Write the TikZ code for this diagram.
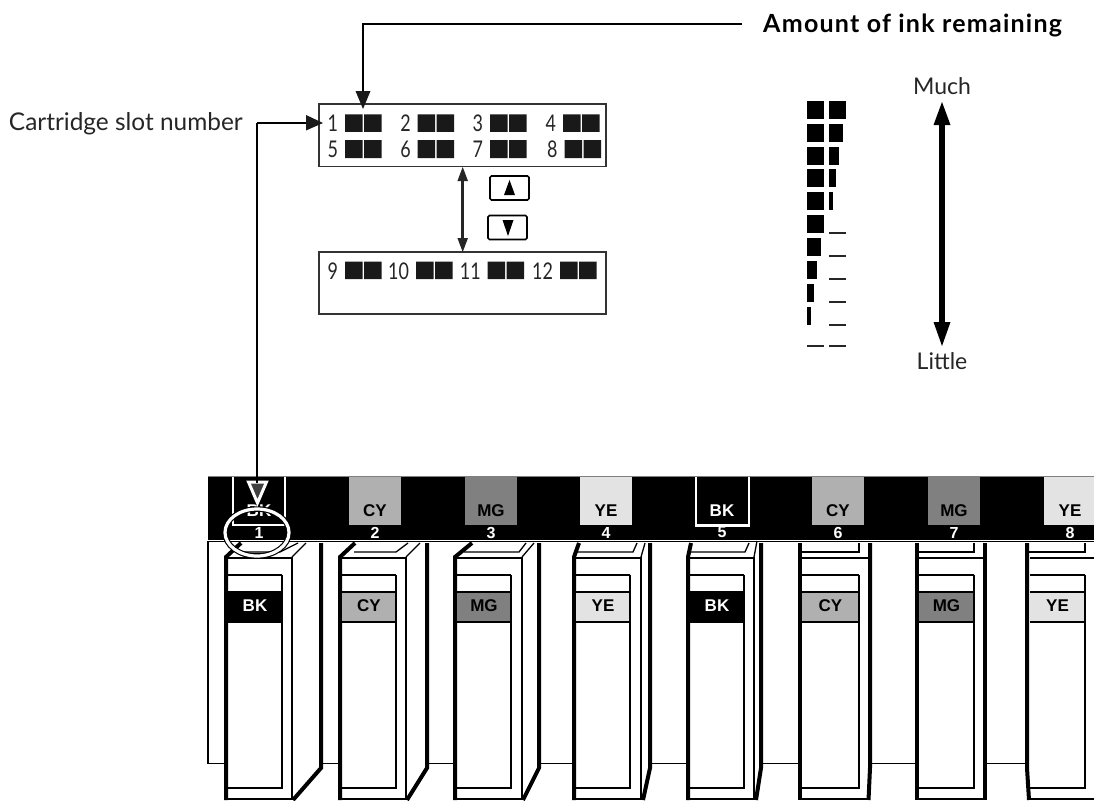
\documentclass[tikz,border=0pt]{standalone}
\usepackage{fontspec}
\setmainfont{Lato}
\newfontfamily\helv{Liberation Sans}
\newfontfamily\narrowdigits[FakeStretch=0.78]{Lato}
\tikzset{
  every node/.style={inner sep=0pt,outer sep=0pt},
  captext/.style={font=\fontsize{23}{26}\selectfont,text=black!85},
  slottext/.style={font=\fontsize{24.4}{26}\selectfont,text=black!85},
  digit/.style={font=\narrowdigits\fontsize{23}{26}\selectfont,text=black!85},
  tagtext/.style={font=\helv\bfseries\fontsize{17}{18}\selectfont},
  numtext/.style={font=\helv\bfseries\fontsize{16}{17}\selectfont,text=white},
  thinline/.style={line width=1.3pt},
  thickedge/.style={line width=4pt,line join=miter},
  panelbox/.style={draw=black!80,line width=1.3pt,fill=white},
  btnbox/.style={draw=black,line width=1.7pt,rounded corners=1.5pt,fill=white},
  leader/.style={draw=black,line width=1.3pt},
  solidblock/.style={fill=black!90,draw=none},
  barfill/.style={fill=black,draw=none},
  barline/.style={draw=black!85,line width=1.2pt},
}
\definecolor{cy}{gray}{.69}
\definecolor{mg}{gray}{.5}
\definecolor{ye}{gray}{.89}
% \cart{label-left}{inner right}{front right}{tag fill}{tag text colour}{tag}
\newcommand{\cart}[6]{%
  \fill[#4] (#1,592) rectangle (#2,622);
  \draw[thinline] (#2,575) -- (#1,575);
  \draw[thinline] (#2,575) -- (#2,788) -- (#1,788);
  \draw[thinline] (#2,592) -- (#1,592) (#2,622) -- (#1,622);
  \draw[thinline] (#1,799) -- (#3,799);
  \node[tagtext,text=#5] at ({(#1+#2)/2},606) {#6};
  \draw[thinline] (#1,558) -- (#3,558);
}
\begin{document}
\begin{tikzpicture}[x=1pt,y=-1pt]
\useasboundingbox (0,0) rectangle (1094,800);
\fill[white] (0,0) rectangle (1094,800);

% --- top callouts
\node[anchor=east,font=\fontsize{25}{27}\selectfont\bfseries\addfontfeature{LetterSpace=5}] (amt) at (1062,25) {Amount of ink remaining};
\node[slottext,anchor=west] (slot) at (9,123.5) {Cartridge slot number};
\node[captext] (much) at (942,86) {Much};
\node[captext] (little) at (942,361) {Little};

% --- panels
\node[panelbox,anchor=north west,minimum width=287pt,minimum height=62.5pt] (p1) at (319,104) {};
\node[panelbox,anchor=north west,minimum width=287pt,minimum height=62pt] (p2) at (319,252) {};
\foreach \x/\n in {345/1,417.7/2,490/3,563/4}{
  \fill[solidblock] (\x,114.3) rectangle ++(17.5,17.5) (\x+19,114.3) rectangle ++(17.5,17.5);
  \node[digit,anchor=east] at (\x-7,123.5) {\n};
}
\foreach \x/\n in {345/5,417.7/6,490/7,564.5/8}{
  \fill[solidblock] (\x,140) rectangle ++(17.5,18) (\x+19,140) rectangle ++(17.5,18);
  \node[digit,anchor=east] at (\x-7,149.5) {\n};
}
\foreach \x/\n in {345/9,416/10,487.7/11,560/12}{
  \fill[solidblock] (\x,261.7) rectangle ++(17.5,17.5) (\x+19,261.7) rectangle ++(17.5,17.5);
  \node[digit,anchor=east] at (\x-7,271) {\n};
}

% --- up and down keys
\node[btnbox,anchor=north west,minimum width=39pt,minimum height=24pt] (up) at (490,176) {};
\node[btnbox,anchor=north west,minimum width=39pt,minimum height=24pt] (down) at (488,215.5) {};
\fill[black] (509.5,180) -- (515,195) -- (504,195) -- cycle;
\fill[black] (508,236) -- (502.5,220) -- (513.5,220) -- cycle;

% --- double arrow between the panels
\coordinate (p1b) at (462.7,167);
\coordinate (p2t) at (462.7,252);
\draw[line width=2.8pt,black!85] (462.7,180) -- (462.7,240);
\fill[black!85] (p1b) -- (468,181) -- (457.4,181) -- cycle;
\fill[black!85] (p2t) -- (468,238) -- (457.4,238) -- cycle;

% --- gauge
\foreach \y/\a/\b in {101/17/17,124/17/14,146.5/17/10,169/17/7,192/17/4}{
  \fill[barfill] (807,\y) rectangle ++(\a,18);
  \fill[barfill] (829,\y) rectangle ++(\b,18);
}
\foreach \y/\a in {215/17,238/14,261/10,284/7,307/4}{
  \fill[barfill] (807,\y) rectangle ++(\a,18);
  \draw[barline] (829,\y+18) -- (846,\y+18);
}
\draw[barline] (807,346) -- (824,346) (829,346) -- (846,346);

% --- big arrow
\coordinate (bigtop) at (942,102);
\coordinate (bigbot) at (942,346);
\draw[line width=5.5pt] (942,120) -- (942,328);
\fill (bigtop) -- (950.5,125) -- (933.5,125) -- cycle;
\fill (bigbot) -- (950.5,322) -- (933.5,322) -- cycle;

% --- printer body
\draw[thinline] (208,541) -- (208,763.5) -- (1094,763.5);
\draw[thinline] (208,541.5) -- (1094,541.5);

% 1
\fill[white] (225,557) -- (240,543) -- (322,543) -- (322,768) -- (292,800) -- (225,800) -- cycle;
\draw[thinline] (240,552) -- (280,552) -- (298,543) (292,557) -- (306,543);
\draw[thickedge] (226,800) -- (226,557) -- (241,543);
\draw[thinline] (292,557) -- (292,800);
\draw[thickedge] (321,543) -- (321,768) -- (293,800);
\cart{228}{282}{292}{black}{white}{BK}
% 2
\fill[white] (339,557) -- (354,543) -- (428,543) -- (428,768) -- (406,800) -- (339,800) -- cycle;
\draw[thinline] (354,552) -- (396,552) -- (408,543) (406,557) -- (420,543);
\draw[thickedge] (340,800) -- (340,557) -- (355,543);
\draw[thinline] (406,557) -- (406,800);
\draw[thickedge] (427,543) -- (427,768) -- (407,800);
\cart{342}{396}{406}{cy}{black}{CY}
% 3
\fill[white] (454,557) -- (470,543) -- (540,543) -- (540,768) -- (522,800) -- (454,800) -- cycle;
\draw[thinline] (464,552) -- (519,552) -- (526,543) (522,557) -- (534,543);
\draw[thickedge] (455,800) -- (455,557) -- (472,543);
\draw[thinline] (522,557) -- (522,800);
\draw[thickedge] (539,543) -- (539,768) -- (523,800);
\cart{457}{511}{522}{mg}{black}{MG}
% 4
\fill[white] (573,557) -- (579,543) -- (651,543) -- (651,768) -- (642,800) -- (573,800) -- cycle;
\draw[thinline] (576,552) -- (633,552) -- (637,543) (641,557) -- (645,543);
\draw[thickedge] (574,800) -- (574,557) -- (579,543);
\draw[thinline] (641,557) -- (641,800);
\draw[thickedge] (650,543) -- (650,768) -- (643,800);
\cart{576}{630}{641}{ye}{black}{YE}
% 5
\fill[white] (688,557) -- (692,543) -- (762,543) -- (762,768) -- (756,800) -- (688,800) -- cycle;
\draw[thinline] (690,552) -- (745,552) -- (749,543) (754,557) -- (757,541);
\draw[thickedge] (688,800) -- (688,557) -- (691,543);
\draw[thinline] (754,557) -- (754,800);
\draw[thickedge] (761,543) -- (761,768) -- (756,800);
\cart{690}{744}{754}{black}{white}{BK}
% 6
\fill[white] (799,543) rectangle (871,800);
\draw[thinline] (800,552) -- (859,552) -- (859,543);
\draw[thickedge] (800,800) -- (800,543);
\draw[thickedge] (870,543) -- (870,768) -- (868.5,800);
\cart{802}{859}{868}{cy}{black}{CY}
% 7
\fill[white] (916,543) rectangle (986,800);
\draw[thinline] (917,552) -- (974,552) -- (974,543);
\draw[thickedge] (917,800) -- (917,543);
\draw[thickedge] (985,543) -- (985,800);
\cart{919}{974}{984}{mg}{black}{MG}
% 8
\fill[white] (1026,543) rectangle (1094,800);
\draw[thinline] (1027,552) -- (1085,552) -- (1085,543);
\draw[thickedge] (1027,543) -- (1027,768) -- (1029,800);
\cart{1030}{1085}{1094}{ye}{black}{YE}

% --- black band
\fill[black] (208,476) rectangle (1094,540);
\draw[black!50,line width=.6pt] (208,476) -- (1094,476);
\foreach \x/\c/\t/\n in {375/cy/CY/2,491/mg/MG/3,606/ye/YE/4,838/cy/CY/6,954/mg/MG/7,1070/ye/YE/8}{
  \fill[\c] (\x-26,477) rectangle (\x+26,525);
  \node[tagtext,text=black] at (\x,511) {\t};
  \node[numtext] at (\x,532.5) {\n};
}
% slots 1 and 5 (white frame on black)
\draw[white,line width=1.3pt] (233,477) -- (233,525) -- (285,525) -- (285,477);
\node[tagtext,text=white] (bk1) at (259,511) {BK};
\node[numtext] (n1) at (259,532.5) {1};
\draw[white,line width=2.6pt] (696,477) -- (696,525.5) -- (749,525.5) -- (749,477);
\node[tagtext,text=white] at (722,511) {BK};
\node[numtext] at (722,532.5) {5};

% --- oval
\draw[black,line width=5.5pt] (257,532.5) ellipse (32pt and 23.5pt);
\draw[white,line width=3.2pt] (257,532.5) ellipse (32pt and 23.5pt);

% --- leaders
\coordinate (amtend) at (742,24);
\coordinate (elbow1) at (363,24);
\coordinate (elbow2) at (257,123);
\draw[leader] (amtend) -- (elbow1) -- (363,92);
\fill[black!90] (363,109) -- (355.5,91) -- (370.5,91) -- cycle;
\draw[leader] (elbow2) -- (308,123);
\fill[black!90] (323,123) -- (306,115) -- (306,130.5) -- cycle;
\draw[leader] (elbow2) -- (257,483);
\fill[black!75,draw=white,line width=3pt,line join=miter] (248.5,482) -- (266.5,482) -- (257.5,503) -- cycle;
\draw[leader] (257,476) -- (257,483);
\end{tikzpicture}
\end{document}
